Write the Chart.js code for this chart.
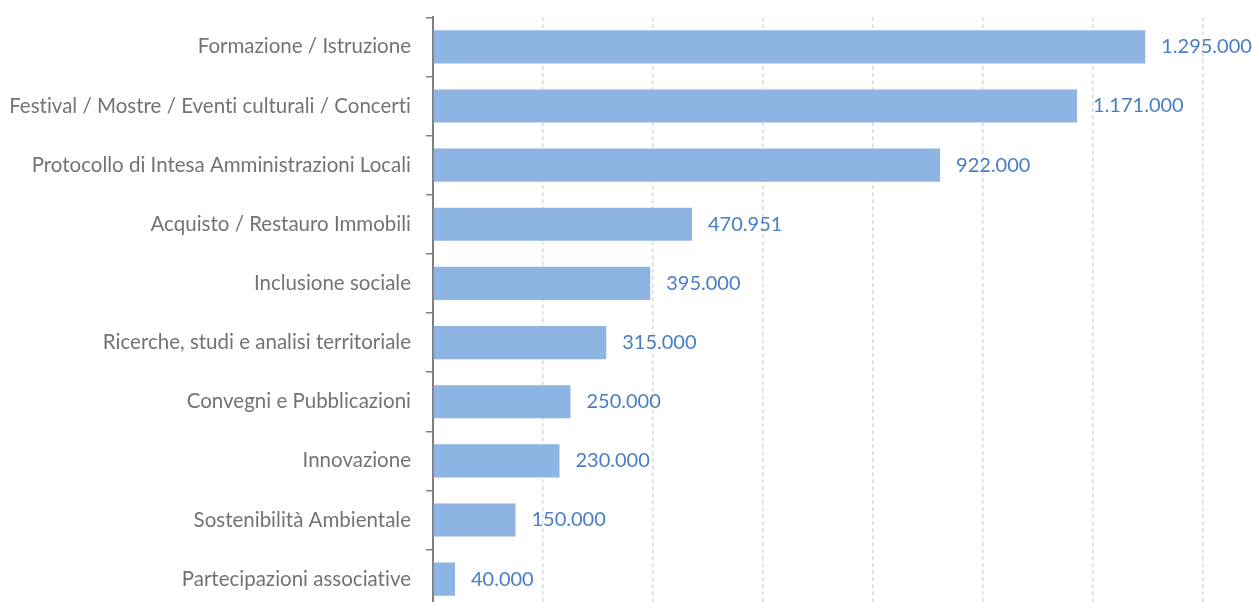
<!DOCTYPE html>
<html>
<head>
<meta charset="utf-8">
<script src="https://cdn.jsdelivr.net/npm/chart.js@4.4.1/dist/chart.umd.min.js"></script>
<style>
  html, body { margin: 0; padding: 0; background: #ffffff; overflow: hidden; }
  #wrap { position: relative; width: 1252px; height: 646px; margin-top: -10px; }
</style>
</head>
<body>
<div id="wrap"><canvas id="c"></canvas></div>
<script>
const categories = [
  "Formazione / Istruzione",
  "Festival / Mostre / Eventi culturali / Concerti",
  "Protocollo di Intesa Amministrazioni Locali",
  "Acquisto / Restauro Immobili",
  "Inclusione sociale",
  "Ricerche, studi e analisi territoriale",
  "Convegni e Pubblicazioni",
  "Innovazione",
  "Sostenibilità Ambientale",
  "Partecipazioni associative"
];
const values = [1295000, 1171000, 922000, 470951, 395000, 315000, 250000, 230000, 150000, 40000];
const axisMin = 0;
const axisMax = 1400000;
const axisStep = 200000;

function fmtIt(v) {
  return String(Math.round(v)).replace(/\B(?=(\d{3})+(?!\d))/g, ".");
}

const FONT = "Lato, 'Open Sans', sans-serif";

const noLig = {
  id: 'noLig',
  beforeDraw(chart) {
    try { chart.ctx.textRendering = 'optimizeSpeed'; } catch (e) {}
  }
};

const valueLabels = {
  id: 'valueLabels',
  afterDatasetsDraw(chart) {
    const ctx = chart.ctx;
    const meta = chart.getDatasetMeta(0);
    ctx.save();
    ctx.font = "20px " + FONT;
    ctx.fillStyle = "#4A7EC4";
    ctx.textAlign = "left";
    ctx.textBaseline = "middle";
    meta.data.forEach((bar, i) => {
      ctx.fillText(fmtIt(chart.data.datasets[0].data[i]), bar.x + 16, bar.y);
    });
    ctx.restore();
  }
};

new Chart(document.getElementById('c'), {
  type: 'bar',
  data: {
    labels: categories,
    datasets: [{
      data: values,
      backgroundColor: '#8EB4E3',
      borderWidth: 0,
      barPercentage: 0.56,
      categoryPercentage: 1.0
    }]
  },
  options: {
    indexAxis: 'y',
    responsive: true,
    maintainAspectRatio: false,
    animation: false,
    layout: { padding: { top: 6, right: 49, bottom: 2, left: 0 } },
    plugins: { legend: { display: false }, tooltip: { enabled: false } },
    scales: {
      x: {
        min: axisMin,
        max: axisMax,
        ticks: { display: false, stepSize: axisStep },
        border: { display: false, dash: [4, 3] },
        grid: {
          color: '#D9D9D9',
          lineWidth: 1.5,
          drawTicks: false
        },
        afterFit(scale) { scale.height = 0; }
      },
      y: {
        border: { display: true, color: '#808080', width: 2 },
        grid: {
          drawOnChartArea: false,
          drawTicks: true,
          tickLength: 7,
          color: '#808080',
          lineWidth: 1.5,
          offset: true
        },
        ticks: {
          color: '#737373',
          font: { family: FONT, size: 20.5 },
          padding: 15
        },
        afterFit(scale) { scale.width = 433; }
      }
    }
  },
  plugins: [noLig, valueLabels]
});
</script>
</body>
</html>
